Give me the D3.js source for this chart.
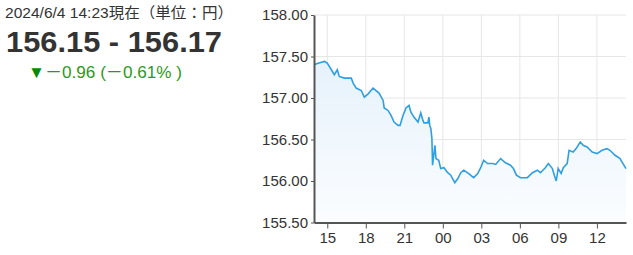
<!DOCTYPE html>
<html><head><meta charset="utf-8">
<script src="https://cdn.jsdelivr.net/npm/d3@7"></script>
<style>
body{margin:0;background:#fff;font-family:"Liberation Sans",Arial,"Noto Sans CJK JP",sans-serif;}
</style></head><body>
<svg id="c" width="633" height="255"></svg>
<script>
const headerDate = "2024/6/4 14:23現在（単位：円）";
const bidAsk = "156.15 - 156.17";
const changeText = "－0.96 (－0.61% )";

const times = ["06-03 13:58","06-03 14:17","06-03 14:47","06-03 15:00","06-03 15:19","06-03 15:33","06-03 15:47","06-03 15:56","06-03 16:20","06-03 16:52","06-03 17:01","06-03 17:15","06-03 17:39","06-03 17:53","06-03 18:11","06-03 18:34","06-03 18:48","06-03 19:02","06-03 19:21","06-03 19:26","06-03 19:44","06-03 19:58","06-03 20:12","06-03 20:31","06-03 20:40","06-03 20:54","06-03 21:08","06-03 21:22","06-03 21:31","06-03 21:45","06-03 22:04","06-03 22:17","06-03 22:27","06-03 22:32","06-03 22:50","06-03 22:55","06-03 22:59","06-03 23:04","06-03 23:09","06-03 23:12","06-03 23:23","06-03 23:28","06-03 23:41","06-03 23:50","06-04 00:05","06-04 00:23","06-04 00:37","06-04 00:56","06-04 01:10","06-04 01:24","06-04 01:38","06-04 02:01","06-04 02:24","06-04 02:43","06-04 02:57","06-04 03:11","06-04 03:29","06-04 03:53","06-04 04:07","06-04 04:30","06-04 04:53","06-04 05:16","06-04 05:30","06-04 05:44","06-04 06:03","06-04 06:35","06-04 06:59","06-04 07:22","06-04 07:36","06-04 07:59","06-04 08:13","06-04 08:32","06-04 08:41","06-04 08:50","06-04 08:59","06-04 09:13","06-04 09:23","06-04 09:41","06-04 09:50","06-04 10:09","06-04 10:23","06-04 10:42","06-04 10:56","06-04 11:14","06-04 11:38","06-04 12:01","06-04 12:24","06-04 12:47","06-04 13:01","06-04 13:25","06-04 13:48","06-04 14:02","06-04 14:16"];
const values = [157.40,157.42,157.44,157.42,157.34,157.28,157.34,157.26,157.24,157.24,157.18,157.12,157.09,157.01,157.05,157.12,157.09,157.06,156.97,156.88,156.85,156.79,156.71,156.67,156.67,156.79,156.88,156.91,156.83,156.77,156.71,156.82,156.73,156.70,156.70,156.77,156.67,156.63,156.51,156.19,156.43,156.27,156.25,156.15,156.16,156.10,156.07,155.98,156.03,156.10,156.13,156.09,156.04,156.09,156.16,156.25,156.21,156.21,156.20,156.27,156.22,156.19,156.15,156.07,156.04,156.04,156.10,156.13,156.10,156.16,156.21,156.15,156.07,156.00,156.15,156.09,156.16,156.21,156.37,156.35,156.39,156.47,156.43,156.41,156.35,156.33,156.37,156.39,156.37,156.31,156.27,156.21,156.15];
const yTicks = [155.5,156.0,156.5,157.0,157.5,158.0];
const xTickLabels = ["15","18","21","00","03","06","09","12"];
const xTickTimes = ["06-03 15:00","06-03 18:00","06-03 21:00","06-04 00:00","06-04 03:00","06-04 06:00","06-04 09:00","06-04 12:00"];

const parse = d3.timeParse("2024-%m-%d %H:%M");
const data = times.map((t,i)=>({t:parse("2024-"+t), v:values[i]}));
const xt = xTickTimes.map(t=>parse("2024-"+t));

const svg = d3.select("#c");
const L=314, R=626, T=15, B=222.5;
const x = d3.scaleTime().domain(d3.extent(data,d=>d.t)).range([L,R]);
const y = d3.scaleLinear().domain([155.5,158]).range([B,T]);

// texts
svg.append("text").attr("x",5).attr("y",18).attr("font-size",15).attr("fill","#333")
  .attr("textLength",228).attr("lengthAdjust","spacingAndGlyphs")
  .style("font-family",'"Liberation Sans",Arial,"Noto Sans CJK JP",sans-serif').text(headerDate);
svg.append("text").attr("x",6).attr("y",52).attr("font-size",30).attr("font-weight","bold").attr("fill","#333")
  .attr("textLength",216).attr("lengthAdjust","spacingAndGlyphs").text(bidAsk);
const g1 = svg.append("text").attr("x",28).attr("y",78).attr("font-size",17)
  .attr("textLength",154).attr("lengthAdjust","spacingAndGlyphs");
g1.append("tspan").attr("fill","#0a8a0a").text("▼");
g1.append("tspan").attr("fill","#2a9a1a").text(changeText);

const defs = svg.append("defs");
const grad = defs.append("linearGradient").attr("id","fillg").attr("x1",0).attr("y1",0).attr("x2",0).attr("y2",1);
grad.append("stop").attr("offset","0%").attr("stop-color","#e6f2fb");
grad.append("stop").attr("offset","100%").attr("stop-color","#fbfdff");

// grid
svg.append("g").selectAll("line").data(yTicks).join("line")
  .attr("x1",L).attr("x2",R).attr("y1",d=>y(d)).attr("y2",d=>y(d))
  .attr("stroke","#e6e6e6").attr("stroke-width",1);
svg.append("g").selectAll("line").data(xt).join("line")
  .attr("x1",d=>x(d)).attr("x2",d=>x(d)).attr("y1",T).attr("y2",B)
  .attr("stroke","#e6e6e6").attr("stroke-width",1);

// area + line
const area = d3.area().x(d=>x(d.t)).y0(B).y1(d=>y(d.v));
svg.append("path").datum(data).attr("d",area).attr("fill","url(#fillg)");
const line = d3.line().x(d=>x(d.t)).y(d=>y(d.v));
svg.append("path").datum(data).attr("d",line).attr("fill","none").attr("stroke","#2e9fe0").attr("stroke-width",1.6);

// axes
const ya = svg.append("g").attr("transform",`translate(${L},0)`)
  .call(d3.axisLeft(y).tickValues(yTicks).tickFormat(d3.format(".2f")).tickSize(3).tickSizeOuter(0));
ya.select(".domain").attr("stroke","#555").attr("stroke-width",2);
ya.selectAll(".tick line").attr("stroke","#555");
ya.selectAll("text").attr("font-size",15).attr("fill","#333").attr("x",-6)
  .style("font-family",'"Liberation Sans",Arial,sans-serif');

const xa = svg.append("g").attr("transform",`translate(0,${B})`)
  .call(d3.axisBottom(x).tickValues(xt).tickFormat((d,i)=>xTickLabels[i]).tickSize(6).tickSizeOuter(0));
xa.select(".domain").attr("stroke","#555").attr("stroke-width",2);
xa.selectAll(".tick line").attr("stroke","#555");
xa.selectAll("text").attr("font-size",15).attr("fill","#333").attr("y",10)
  .style("font-family",'"Liberation Sans",Arial,sans-serif');
</script></body></html>
